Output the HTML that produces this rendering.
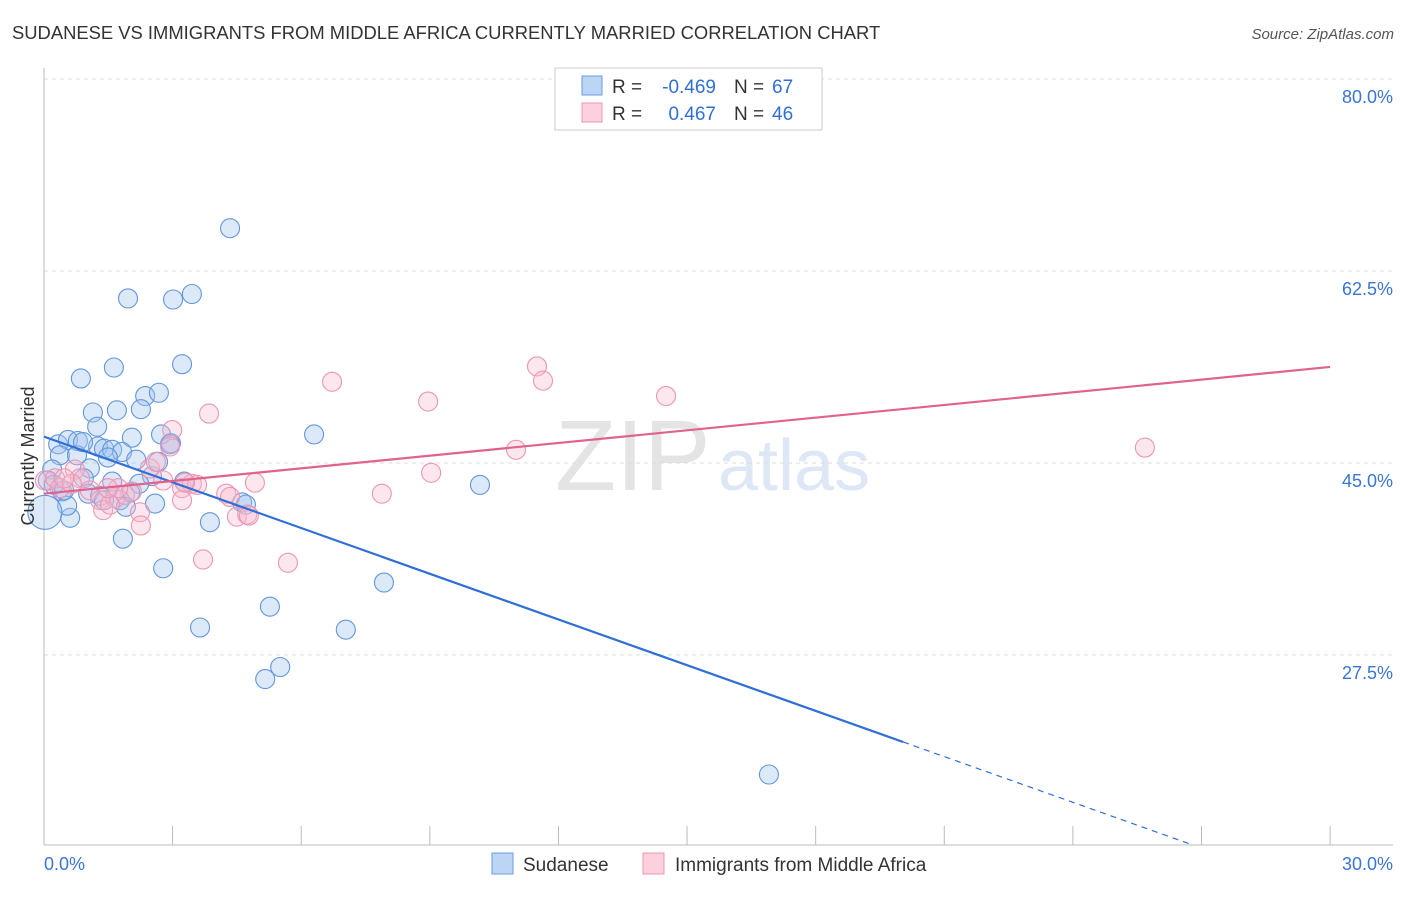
<!DOCTYPE html>
<html><head><meta charset="utf-8"><style>
body{margin:0;background:#fff;font-family:"Liberation Sans",sans-serif}
svg text{font-family:"Liberation Sans",sans-serif}
</style></head><body>
<svg id="chart" width="1406" height="892">
<text x="12" y="39" font-size="18.4" fill="#333">SUDANESE VS IMMIGRANTS FROM MIDDLE AFRICA CURRENTLY MARRIED CORRELATION CHART</text>
<text x="1394" y="39" font-size="15" fill="#555" font-style="italic" text-anchor="end">Source: ZipAtlas.com</text>
<text x="555" y="490" font-size="100" fill="#e4e4e4" font-family="Liberation Serif">ZIP</text>
<text x="718" y="490" font-size="72" fill="#dde7f5">atlas</text>
<g id="grid"></g><g id="axes"></g><g id="pts"></g><g id="trend"></g>
<text transform="translate(34,456) rotate(-90)" font-size="18" fill="#333" text-anchor="middle">Currently Married</text>
<g>
<rect x="555" y="68" width="267" height="62" fill="#fff" stroke="#ccc"/>
<rect x="582" y="76" width="20" height="19" fill="#bcd5f5" stroke="#6a9be0"/>
<rect x="582" y="103" width="20" height="19" fill="#fcd0dc" stroke="#ec98b3"/>
<text x="612" y="93" font-size="19" fill="#333">R =</text>
<text x="716" y="93" font-size="19" fill="#2f6fd6" text-anchor="end">-0.469</text>
<text x="734" y="93" font-size="19" fill="#333">N =</text>
<text x="772" y="93" font-size="19" fill="#2f6fd6">67</text>
<text x="612" y="120" font-size="19" fill="#333">R =</text>
<text x="716" y="120" font-size="19" fill="#2f6fd6" text-anchor="end">0.467</text>
<text x="734" y="120" font-size="19" fill="#333">N =</text>
<text x="772" y="120" font-size="19" fill="#2f6fd6">46</text>
</g>
<g>
<rect x="492" y="853" width="21" height="21" fill="#bcd5f5" stroke="#6a9be0"/>
<text x="523" y="871" font-size="19" fill="#333">Sudanese</text>
<rect x="643" y="853" width="21" height="21" fill="#fcd0dc" stroke="#ec98b3"/>
<text x="675" y="871" font-size="19" fill="#333">Immigrants from Middle Africa</text>
</g>
</svg>
<script>
const yTicks=[80,62.5,45,27.5];
const yTickLabels=["80.0%","62.5%","45.0%","27.5%"];
const xTicks=[0,3,6,9,12,15,18,21,24,27,30];
const blueX=[4.34,1.96,3.01,3.45,3.22,0.86,1.63,2.36,2.68,1.14,1.70,2.26,1.24,6.30,2.05,2.73,2.96,0.33,0.56,0.79,1.26,1.40,1.59,1.82,1.49,2.15,0.37,0.77,1.07,0.19,10.17,2.52,3.27,1.59,0.93,2.22,0.42,1.03,1.31,2.01,1.77,1.91,2.59,4.62,4.71,3.87,0.61,0.54,0.02,1.84,2.78,7.93,5.27,3.64,7.04,5.51,5.16,16.91,0.09,0.23,0.47,1.40,2.94,0.91,2.66];
const blueY=[66.4,60.0,59.9,60.4,54.0,52.7,53.7,51.1,51.4,49.6,49.8,49.9,48.3,47.6,47.3,47.6,46.8,46.7,47.1,47.0,46.5,46.3,46.2,46.0,45.5,45.3,45.7,45.7,44.5,44.4,43.0,43.8,43.3,43.3,43.6,43.1,42.4,42.2,42.0,42.3,41.6,41.0,41.3,41.4,41.2,39.6,40.0,41.1,40.5,38.1,35.4,34.1,31.9,30.0,29.8,26.4,25.3,16.6,43.4,43.0,42.5,41.6,46.7,46.9,45.1];
const pinkX=[0.02,0.26,0.37,0.72,0.84,1.07,1.31,1.38,1.66,1.89,2.05,2.24,2.26,2.47,2.61,2.78,2.99,3.22,3.22,3.45,3.57,3.85,3.71,4.25,4.50,4.74,4.78,4.92,5.69,6.72,7.88,8.96,9.03,11.01,11.50,11.64,14.51,25.68,2.94,1.73,0.65,0.47,1.54,4.34,3.29,1.49];
const pinkY=[43.4,43.6,42.7,44.4,43.6,42.5,41.6,40.7,41.8,42.1,42.4,40.5,39.3,44.5,45.1,43.4,48.0,42.7,41.6,43.1,43.0,49.5,36.2,42.2,40.1,40.3,40.2,43.2,35.9,52.4,42.2,50.6,44.1,46.2,53.8,52.5,51.1,46.4,46.5,42.7,43.1,43.6,41.2,41.9,43.2,42.7];
const blueTrend=[47.4,-1.389]; // intercept, slope
const pinkTrend=[42.2,0.385];
const X=v=>44+v*42.87, Y=v=>79+(80-v)*10.97;
const NS="http://www.w3.org/2000/svg";
function mk(p,t,a){const e=document.createElementNS(NS,t);for(const k in a)e.setAttribute(k,a[k]);document.getElementById(p).appendChild(e);return e;}
yTicks.forEach((t,i)=>{
 const g=mk('grid','line',{x1:44,x2:1393,y1:Y(t),y2:Y(t),stroke:'#ddd','stroke-dasharray':'4,4'});
 
 
 const l=mk('grid','text',{x:1393,y:Y(t)+24,'font-size':18,fill:'#3a75d4','text-anchor':'end'});
 l.textContent=yTickLabels[i];
 
 
});
const ax=mk('axes','line',{x1:44,x2:1393,y1:845,y2:845,stroke:'#bbb'});


const ay=mk('axes','line',{x1:44,x2:44,y1:68,y2:845,stroke:'#bbb'});


xTicks.forEach(t=>{const k=mk('axes','line',{x1:X(t),x2:X(t),y1:826,y2:845,stroke:'#bbb'});
 
 });
[["0.0%",44,'start'],["30.0%",1393,'end']].forEach(d=>{const t=mk('axes','text',{x:d[1],y:870,'font-size':18,fill:'#3a75d4','text-anchor':d[2]});t.textContent=d[0];
 
 });
blueX.forEach((v,i)=>{const c=mk('pts','circle',{cx:X(v),cy:Y(blueY[i]),r:v<0.05?17:9.5,fill:'rgba(160,196,240,0.38)',stroke:'#6396de','stroke-width':1.1});
 
 });
pinkX.forEach((v,i)=>{const c=mk('pts','circle',{cx:X(v),cy:Y(pinkY[i]),r:9.5,fill:'rgba(248,185,205,0.35)',stroke:'#ec96b3','stroke-width':1.1});
 
 });
const bx=20.04, yb=x=>blueTrend[0]+blueTrend[1]*x, yp=x=>pinkTrend[0]+pinkTrend[1]*x;
const xEnd=(10.17-blueTrend[0])/blueTrend[1];
const b1=mk('trend','line',{x1:X(0),y1:Y(yb(0)),x2:X(bx),y2:Y(yb(bx)),stroke:'#2f6fd6','stroke-width':2.2});


const b2=mk('trend','line',{x1:X(bx),y1:Y(yb(bx)),x2:X(xEnd),y2:Y(yb(xEnd)),stroke:'#2f6fd6','stroke-width':1.2,'stroke-dasharray':'6,5'});


const p1=mk('trend','line',{x1:X(0),y1:Y(yp(0)),x2:X(30),y2:Y(yp(30)),stroke:'#e0628f','stroke-width':2.2});


</script>
</body></html>
